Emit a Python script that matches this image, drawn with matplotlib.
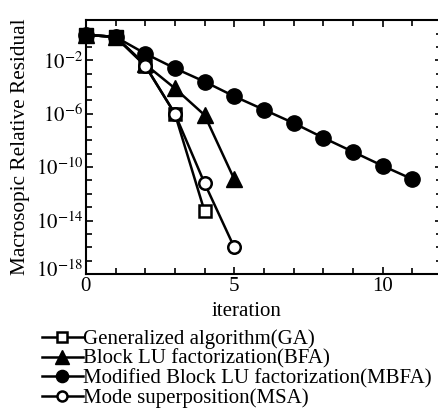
import numpy as np
import matplotlib
matplotlib.use('Agg')
import matplotlib.pyplot as plt
import matplotlib.transforms as mtransforms
from matplotlib.ticker import FixedLocator, FixedFormatter

plt.rcParams['font.family'] = ['Liberation Serif', 'DejaVu Serif']
plt.rcParams['mathtext.fontset'] = 'stix'

# log10 of residual
iters_ga = [0, 1, 2, 3, 4]
res_ga = [-0.1, -0.25, -2.4, -6.0, -13.3]
iters_bfa = [0, 1, 2, 3, 4, 5]
res_bfa = [-0.1, -0.25, -2.3, -4.1, -6.1, -10.9]
iters_mbfa = list(range(12))
res_mbfa = [-0.1, -0.25, -1.5, -2.6, -3.6, -4.7, -5.7, -6.7, -7.8, -8.85, -9.9, -10.9]
iters_msa = [0, 1, 2, 3, 4, 5]
res_msa = [-0.1, -0.25, -2.4, -6.0, -11.2, -16.0]

labels = ['Generalized algorithm(GA)', 'Block LU factorization(BFA)',
          'Modified Block LU factorization(MBFA)', 'Mode superposition(MSA)']

fig = plt.figure(figsize=(4.38, 4.12), dpi=100)
ax = fig.add_axes([0.196, 0.335, 0.813, 0.616])

lw = 1.8
l1, = ax.plot(iters_ga, 10.0 ** np.array(res_ga), '-s', color='black', mfc='white',
              mec='black', mew=1.8, ms=9, lw=lw, zorder=4, clip_on=False)
l2, = ax.plot(iters_bfa, 10.0 ** np.array(res_bfa), '-^', color='black', ms=12, lw=lw,
              zorder=3, clip_on=False)
l3, = ax.plot(iters_mbfa, 10.0 ** np.array(res_mbfa), '-o', color='black', ms=11, lw=lw,
              zorder=3, clip_on=False)
l4, = ax.plot(iters_msa, 10.0 ** np.array(res_msa), '-o', color='black', mfc='white',
              mec='black', mew=1.8, ms=9, lw=lw, zorder=5, clip_on=False)
# first two iterations: all four methods coincide, markers pile up into a black square
ax.plot(iters_ga[:2], 10.0 ** np.array(res_ga[:2]), 's', color='black', ms=10.5,
        zorder=6, clip_on=False)

ax.set_yscale('log')
ax.set_xlim(0, 12)
ax.set_ylim(1e-18, 1e1)

major_y = [1e-18, 1e-14, 1e-10, 1e-6, 1e-2]
ax.yaxis.set_major_locator(FixedLocator(major_y))
ax.yaxis.set_major_formatter(FixedFormatter([r'$10^{-18}$', r'$10^{-14}$', r'$10^{-10}$',
                                             r'$10^{-6}$', r'$10^{-2}$']))
ax.yaxis.set_minor_locator(FixedLocator([10.0 ** k for k in range(-18, 2)]))
ax.xaxis.set_major_locator(FixedLocator([0, 5, 10]))
ax.xaxis.set_minor_locator(FixedLocator(range(0, 13)))

ax.tick_params(which='both', direction='in', top=True, right=True, width=1.2)
ax.tick_params(which='major', length=5, labelsize=15, pad=2)
ax.tick_params(which='minor', length=4)
ax.tick_params(axis='y', which='minor', labelleft=False)
for s in ax.spines.values():
    s.set_linewidth(1.5)

# lift the bottom y label a little so it clears the x "0"
lab = ax.yaxis.get_major_ticks()[0].label1
lab.set_transform(lab.get_transform() + mtransforms.ScaledTranslation(0, 5 / 100, fig.dpi_scale_trans))

ax.set_ylabel('Macrosopic Relative Residual', fontsize=15.3, labelpad=4)
ax.set_xlabel('iteration', fontsize=15, labelpad=0)
ax.xaxis.set_label_coords(0.45, -0.11)

fig.legend([l1, l2, l3, l4], labels, loc='upper left', bbox_to_anchor=(0.095, 0.2),
           frameon=False, fontsize=15, handlelength=2.0, handletextpad=0.0,
           labelspacing=0.0, borderpad=0, borderaxespad=0, markerscale=0.8)

fig.savefig('out.png', dpi=100)
